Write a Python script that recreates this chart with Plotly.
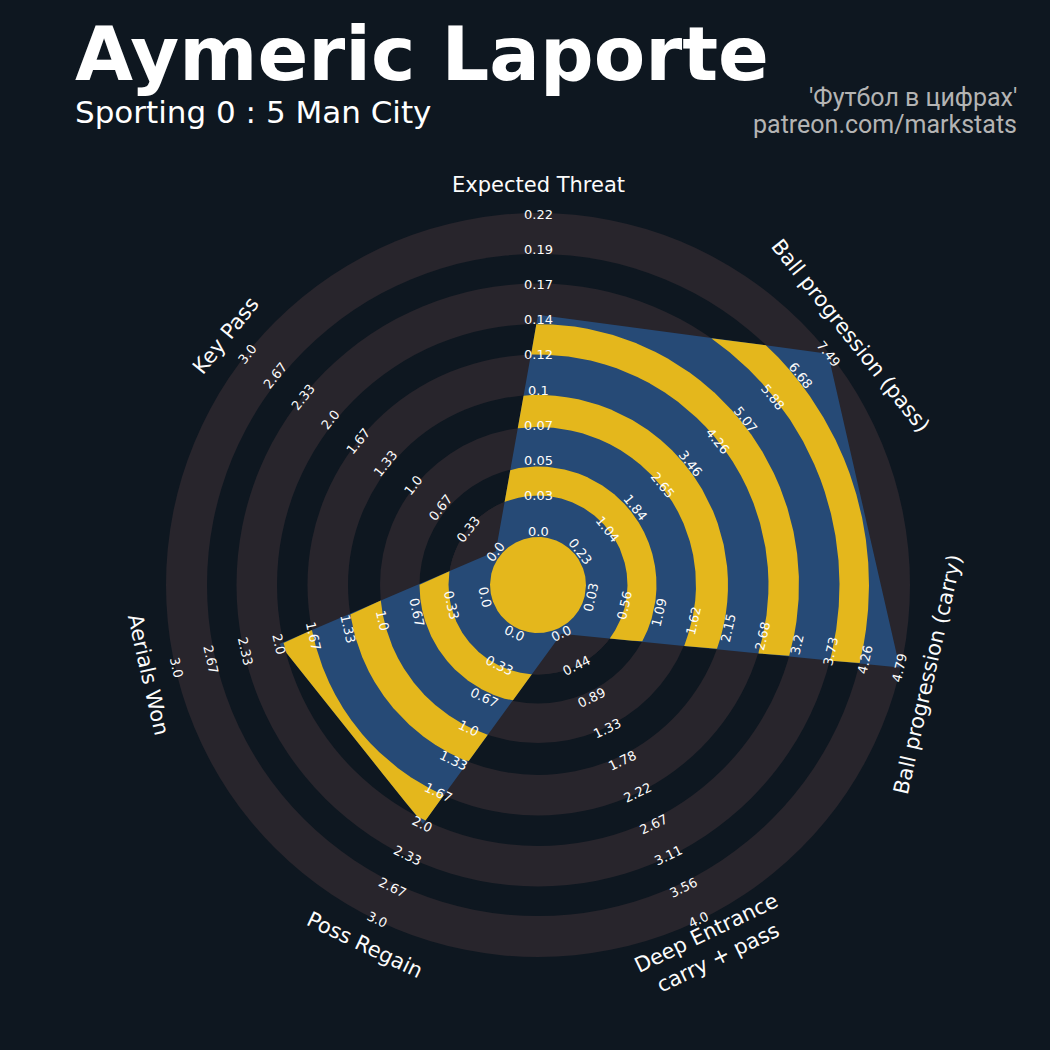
import numpy as np
import plotly.graph_objects as go

# ---------------- data ----------------
params = ["Expected Threat", "Ball progression (pass)", "Ball progression (carry)",
          "Deep Entrance<br>carry + pass", "Poss Regain", "Aerials Won", "Key Pass"]
low = [0.0, 0.23, 0.03, 0.0, 0.0, 0.0, 0.0]
high = [0.22, 7.49, 4.79, 4.0, 3.0, 3.0, 3.0]
values = [0.15, 7.49, 4.79, 0.0, 2.0, 2.0, 0.0]
labels_xt = ["0.0", "0.03", "0.05", "0.07", "0.1", "0.12", "0.14", "0.17", "0.19", "0.22"]
labels_pass = ["0.23", "1.04", "1.84", "2.65", "3.46", "4.26", "5.07", "5.88", "6.68", "7.49"]
labels_carry = ["0.03", "0.56", "1.09", "1.62", "2.15", "2.68", "3.2", "3.73", "4.26", "4.79"]
labels_deep = ["0.0", "0.44", "0.89", "1.33", "1.78", "2.22", "2.67", "3.11", "3.56", "4.0"]
labels_three = ["0.0", "0.33", "0.67", "1.0", "1.33", "1.67", "2.0", "2.33", "2.67", "3.0"]
range_labels = [labels_xt, labels_pass, labels_carry, labels_deep,
                labels_three, labels_three, labels_three]
title = "Aymeric Laporte"
subtitle = "Sporting 0 : 5 Man City"
credit_lines = ["'Футбол в цифрах'", "patreon.com/markstats"]

# ---------------- style / geometry ----------------
W, H = 1050, 1050
CX, CY = 538, 585
BG = "#0e1720"
GRAY = "#28252c"
BLUE = "#264a76"
YELLOW = "#e4b71c"
R_MIN, R_MAX = 54.0, 371.0
CENTER_R = 48.0
EDGES = [48.0, 89.5, 118.5, 158.0, 190.0, 230.5, 261.0, 301.5, 331.0, 372.0]
LABEL_R = 400.0

n = len(params)
theta = np.deg2rad(90 - np.arange(n) * 360.0 / n)
frac = (np.array(values) - np.array(low)) / (np.array(high) - np.array(low))
rad = R_MIN + frac * (R_MAX - R_MIN)
vx = rad * np.cos(theta)
vy = rad * np.sin(theta)

fig = go.Figure()

# background rings
shapes = []
ring_colors = [GRAY, BG] * 5
outer_to_inner = EDGES[::-1]
for i, r in enumerate(outer_to_inner[:-1]):
    shapes.append(dict(type="circle", xref="x", yref="y", x0=-r, y0=-r, x1=r, y1=r,
                       fillcolor=ring_colors[i], line=dict(width=0), layer="below"))
shapes.append(dict(type="circle", xref="x", yref="y", x0=-EDGES[1], y0=-EDGES[1],
                   x1=EDGES[1], y1=EDGES[1], fillcolor=GRAY, line=dict(width=0), layer="below"))

# radar polygon
fig.add_trace(go.Scatter(x=np.append(vx, vx[0]), y=np.append(vy, vy[0]), mode="lines",
                         fill="toself", fillcolor=BLUE, line=dict(width=0, color=BLUE),
                         hoverinfo="skip", showlegend=False))

# radial extent of polygon
imin = int(np.argmin(rad))
phi = theta[imin] + np.linspace(0, 2 * np.pi, 7201)
dx, dy = np.cos(phi), np.sin(phi)
rho = np.full_like(phi, np.inf)
with np.errstate(divide="ignore", invalid="ignore"):
    for i in range(n):
        px, py = vx[i], vy[i]
        ex, ey = vx[(i + 1) % n] - px, vy[(i + 1) % n] - py
        den = dx * ey - dy * ex
        s = (px * ey - py * ex) / den
        t = (px * dy - py * dx) / den
        ok = (t >= -1e-9) & (t <= 1 + 1e-9) & (s > 0)
        rho = np.where(ok, np.minimum(rho, s), rho)


def clipped_band(a, b):
    xs, ys = [], []
    valid = rho > a
    idx = np.where(valid)[0]
    if len(idx) == 0:
        return xs, ys
    runs = np.split(idx, np.where(np.diff(idx) > 1)[0] + 1)
    for run in runs:
        outer = np.minimum(rho[run], b)
        p = phi[run]
        ox, oy = outer * np.cos(p), outer * np.sin(p)
        if a > 0:
            ix, iy = a * np.cos(p[::-1]), a * np.sin(p[::-1])
        else:
            ix, iy = np.array([0.0]), np.array([0.0])
        xs += list(ox) + list(ix) + [ox[0], None]
        ys += list(oy) + list(iy) + [oy[0], None]
    return xs, ys


bx, by = [], []
for k in range(1, len(EDGES) - 1, 2):
    x_, y_ = clipped_band(EDGES[k], EDGES[k + 1])
    bx += x_
    by += y_
fig.add_trace(go.Scatter(x=bx, y=by, mode="lines", fill="toself", fillcolor=YELLOW,
                         line=dict(width=0, color=YELLOW), hoverinfo="skip", showlegend=False))

cx_, cy_ = clipped_band(0.0, CENTER_R)
fig.add_trace(go.Scatter(x=cx_, y=cy_, mode="lines", fill="toself", fillcolor=YELLOW,
                         line=dict(width=0, color=YELLOW), hoverinfo="skip", showlegend=False))


def upright(rot):
    rot = (rot + 180) % 360 - 180
    if rot > 90:
        rot -= 180
    elif rot < -90:
        rot += 180
    return rot


annotations = []
label_r = np.linspace(R_MIN, R_MAX, 10)
for i in range(n):
    rot = upright(np.rad2deg(theta[i]) - 90)
    for j, txt in enumerate(range_labels[i]):
        annotations.append(dict(x=label_r[j] * np.cos(theta[i]), y=label_r[j] * np.sin(theta[i]),
                                xref="x", yref="y", text=txt, showarrow=False,
                                textangle=-rot, xanchor="center", yanchor="middle",
                                font=dict(family="DejaVu Sans", size=13, color="#fcfcfc")))
    annotations.append(dict(x=LABEL_R * np.cos(theta[i]), y=LABEL_R * np.sin(theta[i]),
                            xref="x", yref="y", text=params[i], showarrow=False,
                            textangle=-rot, xanchor="center", yanchor="middle", align="center",
                            font=dict(family="DejaVu Sans", size=21, color="#fcfcfc")))


def px2x(px):
    return px - CX


def py2y(py):
    return CY - py


annotations.append(dict(x=px2x(73), y=py2y(54), xref="x", yref="y", text="<b>" + title + "</b>",
                        showarrow=False, xanchor="left", yanchor="middle",
                        font=dict(family="DejaVu Sans", size=75, color="#ffffff")))
annotations.append(dict(x=px2x(73), y=py2y(112), xref="x", yref="y", text=subtitle,
                        showarrow=False, xanchor="left", yanchor="middle",
                        font=dict(family="DejaVu Sans", size=31, color="#ffffff")))
for k, line in enumerate(credit_lines):
    annotations.append(dict(x=px2x(1019), y=py2y(97 + 27 * k), xref="x", yref="y", text=line,
                            showarrow=False, xanchor="right", yanchor="middle",
                            font=dict(family="Roboto", size=25, color="#b4b4b4")))

fig.update_layout(
    width=W, height=H, margin=dict(l=0, r=0, t=0, b=0),
    paper_bgcolor=BG, plot_bgcolor=BG,
    xaxis=dict(range=[-CX, W - CX], visible=False, domain=[0, 1], fixedrange=True),
    yaxis=dict(range=[-(H - CY), CY], visible=False, domain=[0, 1], fixedrange=True),
    shapes=shapes, annotations=annotations, showlegend=False,
)

fig.write_html("out.html", config={"displayModeBar": False},
               post_script="document.body.style.margin='0px';")
